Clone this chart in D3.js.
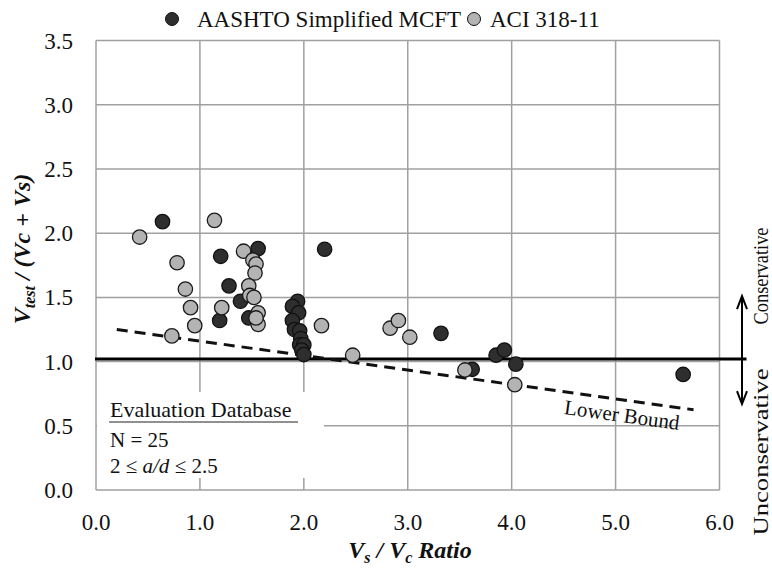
<!DOCTYPE html>
<html><head><meta charset="utf-8">
<script src="https://cdn.jsdelivr.net/npm/d3@7"></script>
<style>
body{margin:0;background:#fff;}
svg text{font-family:"Liberation Serif","Times New Roman","DejaVu Serif","Noto Serif",serif;}
</style></head>
<body><svg id="chart" width="772" height="569"></svg>
<script>
// ---- data ----
const xTicks = [0, 1, 2, 3, 4, 5, 6];
const yTicks = [0, 0.5, 1.0, 1.5, 2.0, 2.5, 3.0, 3.5];
const seriesNames = ["AASHTO Simplified MCFT", "ACI 318-11"];
const aashtoX = [0.64,1.20,1.56,2.20,1.28,1.39,1.19,1.47,1.94,1.89,1.95,1.89,1.91,1.96,1.97,1.96,2.00,1.98,2.00,3.32,3.62,3.85,3.93,4.04,5.65];
const aashtoY = [2.09,1.82,1.88,1.875,1.59,1.47,1.32,1.34,1.47,1.43,1.38,1.32,1.25,1.24,1.18,1.13,1.13,1.09,1.055,1.22,0.94,1.05,1.09,0.98,0.90];
const aciX = [0.42,1.14,0.78,0.86,0.91,0.95,0.73,1.21,1.42,1.51,1.54,1.53,1.47,1.48,1.52,1.56,1.56,1.54,2.17,2.47,2.83,2.91,3.02,3.55,4.03];
const aciY = [1.97,2.10,1.77,1.565,1.42,1.28,1.20,1.42,1.86,1.79,1.76,1.69,1.59,1.515,1.50,1.38,1.29,1.34,1.28,1.05,1.26,1.32,1.19,0.935,0.82];
const lowerBoundX = [0.2, 5.75];
const lowerBoundY = [1.25, 0.625];
const refLineY = 1.02;
const boxLines = ["Evaluation Database", "N = 25"];

// ---- scales ----
const svg = d3.select("#chart");
const x = d3.scaleLinear().domain([0, 6]).range([96, 719.5]);
const y = d3.scaleLinear().domain([0, 3.5]).range([490, 40.6]);
const gridCol = "#a0a0a0";
const FF = "'Liberation Serif','Times New Roman','DejaVu Serif','Noto Serif',serif";

// grid
const g = svg.append("g");
g.selectAll(".vg").data(xTicks).enter().append("line")
  .attr("x1", d => x(d)).attr("x2", d => x(d)).attr("y1", y(0)).attr("y2", y(3.5))
  .attr("stroke", gridCol).attr("stroke-width", 1.5);
g.selectAll(".hg").data(yTicks).enter().append("line")
  .attr("y1", d => y(d)).attr("y2", d => y(d)).attr("x1", x(0)).attr("x2", x(6))
  .attr("stroke", gridCol).attr("stroke-width", 1.5);

// white box for evaluation database
svg.append("rect").attr("x", x(0) + 1).attr("y", 392).attr("width", 227).attr("height", 86).attr("fill", "#fff");

// tick labels
svg.selectAll(".yl").data(yTicks).enter().append("text")
  .attr("x", 73).attr("y", d => y(d)).attr("dy", "0.35em").attr("text-anchor", "end")
  .attr("font-family", FF).attr("font-size", 23).attr("fill", "#111").text(d => d.toFixed(1));
svg.selectAll(".xl").data(xTicks).enter().append("text")
  .attr("x", d => x(d)).attr("y", 530).attr("text-anchor", "middle")
  .attr("font-family", FF).attr("font-size", 23).attr("fill", "#111").text(d => d.toFixed(1));

// reference line
svg.append("line").attr("x1", x(0) - 1).attr("x2", x(6) + 27)
  .attr("y1", y(refLineY)).attr("y2", y(refLineY)).attr("stroke", "#000").attr("stroke-width", 3);

// lower bound
svg.append("line").attr("x1", x(lowerBoundX[0])).attr("y1", y(lowerBoundY[0]))
  .attr("x2", x(lowerBoundX[1])).attr("y2", y(lowerBoundY[1]))
  .attr("stroke", "#111").attr("stroke-width", 3).attr("stroke-dasharray", "11,7");
const ang = Math.atan2(y(lowerBoundY[1]) - y(lowerBoundY[0]), x(lowerBoundX[1]) - x(lowerBoundX[0])) * 180 / Math.PI;
svg.append("text").attr("transform", `translate(${621},${422}) rotate(${ang})`)
  .attr("text-anchor", "middle").attr("font-family", FF).attr("font-size", 21).attr("fill", "#111").text("Lower Bound");

// points
const dark = aashtoX.map((v, i) => ({x: v, y: aashtoY[i]}));
const light = aciX.map((v, i) => ({x: v, y: aciY[i]}));
svg.append("g").selectAll("circle").data(dark).enter().append("circle")
  .attr("cx", d => x(d.x)).attr("cy", d => y(d.y)).attr("r", 7.2)
  .attr("fill", "#2e2e2e").attr("stroke", "#111").attr("stroke-width", 1.3);
svg.append("g").selectAll("circle").data(light).enter().append("circle")
  .attr("cx", d => x(d.x)).attr("cy", d => y(d.y)).attr("r", 7.2)
  .attr("fill", "#b3b3b3").attr("stroke", "#1a1a1a").attr("stroke-width", 1.3);

// legend
svg.append("circle").attr("cx", 172).attr("cy", 19).attr("r", 6.5).attr("fill", "#2e2e2e").attr("stroke", "#111");
svg.append("text").attr("x", 197).attr("y", 27).attr("font-family", FF).attr("font-size", 23).attr("fill", "#111").text(seriesNames[0]);
svg.append("circle").attr("cx", 474).attr("cy", 19).attr("r", 6.5).attr("fill", "#b3b3b3").attr("stroke", "#111");
svg.append("text").attr("x", 490).attr("y", 27).attr("font-family", FF).attr("font-size", 23).attr("fill", "#111").text(seriesNames[1]);

// evaluation database text
svg.append("text").attr("x", 110).attr("y", 417).attr("font-family", FF).attr("font-size", 22).attr("fill", "#111").text(boxLines[0]);
svg.append("line").attr("x1", 109).attr("x2", 298).attr("y1", 422).attr("y2", 422).attr("stroke", "#222").attr("stroke-width", 1.2);
svg.append("text").attr("x", 110).attr("y", 447).attr("font-family", FF).attr("font-size", 21).attr("fill", "#111").text(boxLines[1]);
const t3 = svg.append("text").attr("x", 110).attr("y", 473).attr("font-family", FF).attr("font-size", 21).attr("fill", "#111");
t3.append("tspan").text("2 ≤ ");
t3.append("tspan").attr("font-style", "italic").text("a/d");
t3.append("tspan").text(" ≤ 2.5");

// axis titles
const xt = svg.append("text").attr("x", 410).attr("y", 558).attr("text-anchor", "middle").attr("font-family", FF)
  .attr("font-size", 24).attr("font-weight", "bold").attr("font-style", "italic").attr("fill", "#111");
xt.append("tspan").text("V");
xt.append("tspan").attr("font-size", 16).attr("dy", 5).text("s");
xt.append("tspan").attr("dy", -5).text(" / V");
xt.append("tspan").attr("font-size", 16).attr("dy", 5).text("c");
xt.append("tspan").attr("dy", -5).text(" Ratio");

const yt = svg.append("text").attr("transform", "translate(30,249) rotate(-90)").attr("text-anchor", "middle").attr("font-family", FF)
  .attr("font-size", 24).attr("font-weight", "bold").attr("font-style", "italic").attr("fill", "#111");
yt.append("tspan").text("V");
yt.append("tspan").attr("font-size", 16).attr("dy", 5).text("test");
yt.append("tspan").attr("dy", -5).text(" / (Vc + Vs)");

// conservative arrow
const ax = 742, ay = y(refLineY);
svg.append("line").attr("x1", ax).attr("x2", ax).attr("y1", ay - 60).attr("y2", ay + 42).attr("stroke", "#000").attr("stroke-width", 2);
svg.append("path").attr("d", `M${ax-5},${ay-50} L${ax},${ay-63} L${ax+5},${ay-50}`).attr("fill", "none").attr("stroke", "#000").attr("stroke-width", 2);
svg.append("path").attr("d", `M${ax-5},${ay+32} L${ax},${ay+45} L${ax+5},${ay+32}`).attr("fill", "none").attr("stroke", "#000").attr("stroke-width", 2);
svg.append("text").attr("transform", "translate(768,276) rotate(-90)").attr("text-anchor", "middle").attr("font-family", FF)
  .attr("font-size", 21).attr("textLength", 97).attr("lengthAdjust", "spacingAndGlyphs").attr("fill", "#111").text("Conservative");
svg.append("text").attr("transform", "translate(768,452) rotate(-90)").attr("text-anchor", "middle").attr("font-family", FF)
  .attr("font-size", 21).attr("textLength", 167).attr("lengthAdjust", "spacingAndGlyphs").attr("fill", "#111").text("Unconservative");
</script></body></html>
